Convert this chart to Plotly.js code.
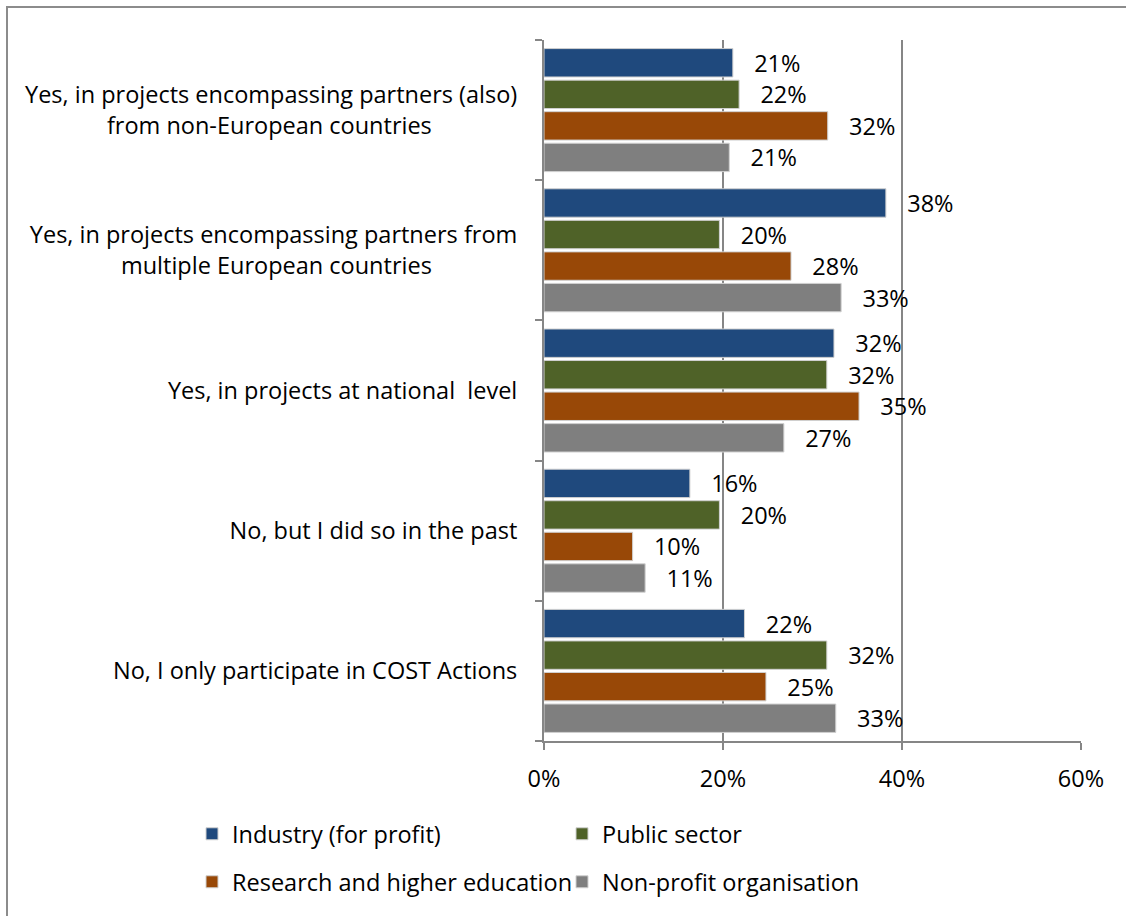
<!DOCTYPE html>
<html>
<head>
<meta charset="utf-8">
<script src="https://cdn.plot.ly/plotly-3.0.1.min.js"></script>
<style>
  body { margin: 0; background: #fff; }
  #chart { width: 1126px; height: 916px; }
</style>
</head>
<body>
<div id="chart"></div>
<script>
// categories, top to bottom
const categories = [
  "Yes, in projects encompassing partners (also) from non-European countries",
  "Yes, in projects encompassing partners from multiple European countries",
  "Yes, in projects at national level",
  "No, but I did so in the past",
  "No, I only participate in COST Actions"
];
const tickLines = [
  ["Yes, in projects encompassing partners (also)", "from non-European countries"],
  ["Yes, in projects encompassing partners from", "multiple European countries"],
  ["Yes, in projects at national  level"],
  ["No, but I did so in the past"],
  ["No, I only participate in COST Actions"]
];

const seriesNames = ["Industry (for profit)", "Public sector", "Research and higher education", "Non-profit organisation"];
const industry  = [0.211, 0.382, 0.324, 0.163, 0.224];
const publicSec = [0.218, 0.196, 0.316, 0.196, 0.316];
const research  = [0.317, 0.276, 0.352, 0.099, 0.248];
const nonProfit = [0.207, 0.332, 0.268, 0.113, 0.326];
const colors = ["#1F497D", "#4F6228", "#984807", "#7F7F7F"];

const FONT = "'Open Sans', sans-serif";
const FS = 23.5;
const LABEL_FS = 23.5;

// measure a non-breaking space so padding can be sized in pixels
const ctx = document.createElement("canvas").getContext("2d");
const nbspWidth = (size) => {
  ctx.font = size + "px 'Open Sans'";
  return ctx.measureText("\u00a0").width || 5;
};
const pad = (px, size) => "\u00a0".repeat(Math.max(0, Math.round(px / nbspWidth(size))));

// second lines sit a bit left of the right edge, as in the original
const tickText = tickLines.map(l => l.length > 1 ? l[0] + "<br>" + l[1] + pad(85, FS) : l[0]);

const allSeries = [industry, publicSec, research, nonProfit];
const traces = allSeries.map((vals, i) => ({
  type: "bar",
  orientation: "h",
  name: seriesNames[i],
  y: categories,
  x: vals,
  legend: i < 2 ? "legend" : "legend2",
  marker: { color: colors[i], line: { color: "#d0d0d0", width: 1 } },
  texttemplate: pad(16, LABEL_FS) + "%{x:.0%}",
  textposition: "outside",
  constraintext: "none",
  cliponaxis: false,
  textfont: { family: FONT, size: LABEL_FS, color: "#000" },
  hoverinfo: "x+name"
}));

// plot area in pixels
const L = 544, R = 1081, T = 40, B = 741, W = 1126, H = 916;
const px2x = (p) => (p - L) / (R - L);
const px2y = (p) => (B - p) / (B - T);

const legendCommon = {
  orientation: "h",
  font: { family: FONT, size: FS, color: "#000" },
  entrywidthmode: "pixels",
  entrywidth: 325,
  itemwidth: 30,
  xanchor: "left",
  yanchor: "middle",
  bgcolor: "rgba(0,0,0,0)",
  traceorder: "normal"
};

const layout = {
  width: W,
  height: H,
  margin: { l: L, r: W - R, t: T, b: H - B, pad: 0 },
  paper_bgcolor: "#fff",
  plot_bgcolor: "#fff",
  font: { family: FONT, size: FS, color: "#000" },
  barmode: "group",
  bargap: 0.1,
  bargroupgap: 0.1,
  showlegend: true,
  legend: Object.assign({}, legendCommon, { x: px2x(192), y: px2y(834) }),
  legend2: Object.assign({}, legendCommon, { x: px2x(192), y: px2y(882) }),
  xaxis: {
    range: [0, 0.6],
    dtick: 0.2,
    tickformat: ".0%",
    showgrid: true,
    gridcolor: "#868686",
    gridwidth: 1.5,
    zeroline: false,
    showline: true,
    linecolor: "#868686",
    linewidth: 2,
    ticks: "outside",
    ticklen: 7,
    tickcolor: "#868686",
    tickwidth: 2,
    ticklabelstandoff: 9,
    tickfont: { family: FONT, size: FS, color: "#000" },
    fixedrange: true
  },
  yaxis: {
    type: "category",
    autorange: "reversed",
    tickvals: categories,
    ticktext: tickText,
    tickson: "boundaries",
    ticks: "outside",
    ticklen: 7,
    tickcolor: "#868686",
    tickwidth: 2,
    showline: true,
    linecolor: "#868686",
    linewidth: 2,
    showgrid: false,
    ticklabelstandoff: 20,
    tickfont: { family: FONT, size: FS, color: "#000" },
    fixedrange: true
  },
  shapes: [{
    type: "rect", xref: "paper", yref: "paper",
    x0: px2x(7), x1: px2x(W + 10), y0: px2y(H + 10), y1: px2y(7),
    line: { color: "#8c8c8c", width: 2 }, fillcolor: "rgba(0,0,0,0)", layer: "below"
  }]
};

Plotly.newPlot("chart", traces, layout, { displayModeBar: false, staticPlot: true });
</script>
</body>
</html>
